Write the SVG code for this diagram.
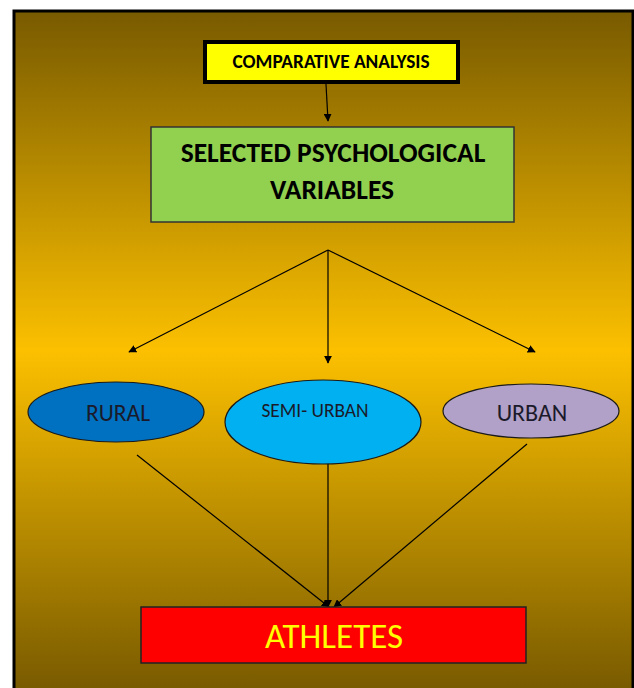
<svg xmlns="http://www.w3.org/2000/svg" width="634" height="688" viewBox="0 0 634 688">
<defs>
<linearGradient id="bg" x1="0" y1="0" x2="0" y2="1">
<stop offset="0" stop-color="#785a00"/>
<stop offset="0.5" stop-color="#fcc000"/>
<stop offset="1" stop-color="#785a00"/>
</linearGradient>
<marker id="ah" viewBox="0 0 10 10" refX="9" refY="5" markerWidth="8" markerHeight="8" markerUnits="userSpaceOnUse" orient="auto">
<path d="M0,0 L10,5 L0,10 z" fill="#000"/>
</marker>
<style>
.t{font-family:Carlito,Lato,"Liberation Sans",Arial,sans-serif;text-anchor:middle;dominant-baseline:central}
.b{font-weight:bold}
.c{stroke:#000;stroke-width:1.2;fill:none;marker-end:url(#ah)}
.e{stroke:#1a1a1a;stroke-width:1.2}
</style>
</defs>
<rect x="14" y="11" width="619" height="680" fill="url(#bg)" stroke="#000" stroke-width="3"/>
<g id="connectors">
<line class="c" x1="326" y1="84" x2="328" y2="121"/>
<line class="c" x1="328" y1="250" x2="129" y2="352"/>
<line class="c" x1="328" y1="250" x2="328" y2="363"/>
<line class="c" x1="328" y1="250" x2="535" y2="352"/>
<line class="c" x1="137" y1="455" x2="329" y2="607"/>
<line class="c" x1="328" y1="455" x2="328" y2="607"/>
<line class="c" x1="527" y1="444" x2="334" y2="607"/>
</g>
<g id="comparative">
<rect x="205" y="42" width="253" height="40" fill="#ffff00" stroke="#000" stroke-width="4"/>
<text class="t b" x="331" y="61" font-size="19.3">COMPARATIVE ANALYSIS</text>
</g>
<g id="variables">
<rect x="151" y="127" width="363" height="95" fill="#92d050" stroke="#333" stroke-width="1.5"/>
<text class="t b" x="333" y="152" font-size="27.5">SELECTED PSYCHOLOGICAL</text>
<text class="t b" x="332" y="189" font-size="27.5">VARIABLES</text>
</g>
<g id="rural">
<ellipse class="e" cx="116" cy="412" rx="88" ry="30" fill="#0070c0"/>
<text class="t" x="118" y="413" font-size="23.5" fill="#1a1a2a">RURAL</text>
</g>
<g id="semiurban">
<ellipse class="e" cx="323" cy="422" rx="98" ry="42" fill="#00b0f0"/>
<text class="t" x="315" y="410" font-size="19.4" fill="#1a1a2a">SEMI- URBAN</text>
</g>
<g id="urban">
<ellipse class="e" cx="531" cy="411" rx="88" ry="27" fill="#b1a0c7"/>
<text class="t" x="532" y="412" font-size="24" fill="#1a1a2a">URBAN</text>
</g>
<g id="athletes">
<rect x="141" y="607" width="385" height="56" fill="#ff0000" stroke="#222" stroke-width="1.5"/>
<text class="t" x="334" y="636" font-size="35" fill="#ffff00">ATHLETES</text>
</g>
</svg>
